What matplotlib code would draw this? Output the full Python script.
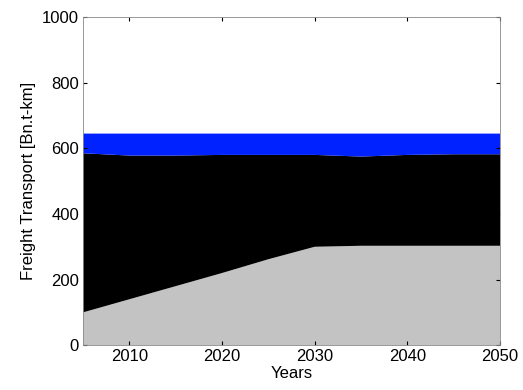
import numpy as np
import matplotlib.pyplot as plt

plt.rcParams['font.family'] = ['Liberation Sans', 'DejaVu Sans']

years = [2005, 2010, 2015, 2020, 2025, 2030, 2035, 2040, 2045, 2050]
road = [100, 140, 180, 220, 262, 300, 303, 303, 303, 303]
rail = [485, 438, 398, 360, 318, 280, 272, 277, 279, 279]
other = [60, 67, 67, 65, 65, 65, 70, 65, 63, 63]

fig = plt.figure(figsize=(5.23, 3.9), dpi=100)
ax = fig.add_axes([0.159, 0.115, 0.797, 0.841])

ax.stackplot(years, road, rail, other,
             colors=['#c3c3c3', '#000000', '#0022ff'], linewidth=0)

ax.set_xlim(2005, 2050)
ax.set_ylim(0, 1000)
ax.set_xticks([2010, 2020, 2030, 2040, 2050])
ax.set_yticks([0, 200, 400, 600, 800, 1000])
ax.tick_params(direction='in', labelsize=12, length=3, top=True, right=True, pad=3)
for s in ax.spines.values():
    s.set_color('#888888')
    s.set_linewidth(0.6)

ax.set_xlabel('Years', fontsize=12, labelpad=1)
ax.set_ylabel('Freight Transport [Bn.t-km]', fontsize=12, labelpad=4)

plt.savefig('out.png', dpi=100)
